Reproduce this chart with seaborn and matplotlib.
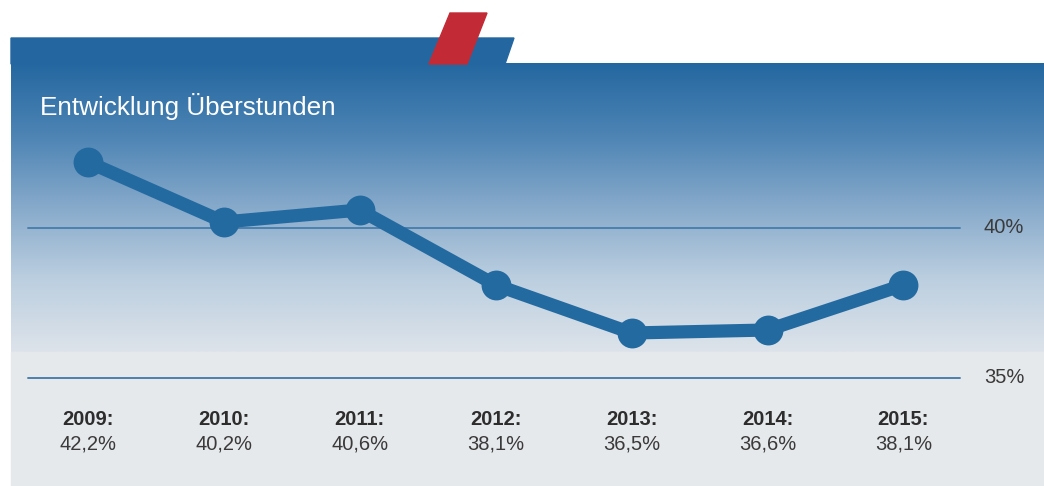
import numpy as np
import matplotlib
matplotlib.use("Agg")
import matplotlib.pyplot as plt
from matplotlib.colors import LinearSegmentedColormap
from matplotlib.patches import Polygon, Rectangle
import seaborn as sns

# data
years = ["2009", "2010", "2011", "2012", "2013", "2014", "2015"]
values = [42.2, 40.2, 40.6, 38.1, 36.5, 36.6, 38.1]
grid_values = [40, 35]
title = "Entwicklung Überstunden"

sns.set_theme(style="white")
plt.rcParams["font.family"] = ["Liberation Sans", "DejaVu Sans"]

W, H = 1044, 486
fig = plt.figure(figsize=(W / 100, H / 100), dpi=100)

# background decoration in pixel coordinates
bg = fig.add_axes([0, 0, 1, 1])
bg.set_xlim(0, W)
bg.set_ylim(H, 0)
bg.axis("off")

grad = LinearSegmentedColormap.from_list(
    "panel", ["#2467a0", "#4d84b4", "#87aacb", "#bccfe0", "#dde3ea"]
)
bg.imshow(np.linspace(0, 1, 256).reshape(-1, 1), cmap=grad, aspect="auto",
          extent=(11, W, 352, 64), zorder=1)
bg.add_patch(Rectangle((11, 352), W - 11, H - 352, color="#e6e9ec", zorder=1))
bg.add_patch(Polygon([(11, 38), (514, 38), (505, 64), (11, 64)],
                     closed=True, color="#2467a0", zorder=1))
bg.add_patch(Polygon([(450, 13), (487, 13), (467, 64), (429, 64)],
                     closed=True, color="#c22b35", zorder=2))
bg.text(40, 106, title, color="white", fontsize=18.8, va="center", ha="left")

# data axes mapped onto the panel
ax = fig.add_axes([0, 0, 1, 1])
ax.patch.set_alpha(0)
x = np.arange(len(years))
step = 135.9
ax.set_xlim(-88 / step, (W - 88) / step)
ax.set_ylim(40 - (H - 228) / 30, 40 + 228 / 30)
ax.axis("off")

for g in grid_values:
    ax.axhline(g, xmin=28 / W, xmax=960 / W, color="#4b80ae", lw=1.4, zorder=2)
    ax.text(984 / W, g, f"{g}%", transform=ax.get_yaxis_transform(),
            fontsize=14.5, color="#3a3a3a", va="center", ha="left")

sns.lineplot(x=x, y=values, ax=ax, color="#236aa1", linewidth=9.5,
             marker="o", markersize=21.5, markeredgewidth=0, zorder=3)

# year / value labels below the chart
lab_tr = ax.get_xaxis_transform()
for i, (yr, v) in enumerate(zip(years, values)):
    ax.text(i, 1 - 419 / H, yr + ":", transform=lab_tr, ha="center", va="center",
            fontsize=14.5, fontweight="bold", color="#2d2d2d")
    ax.text(i, 1 - 444 / H, f"{v:.1f}".replace(".", ",") + "%", transform=lab_tr,
            ha="center", va="center", fontsize=14.5, color="#3a3a3a")

fig.savefig("out.png", dpi=100)
